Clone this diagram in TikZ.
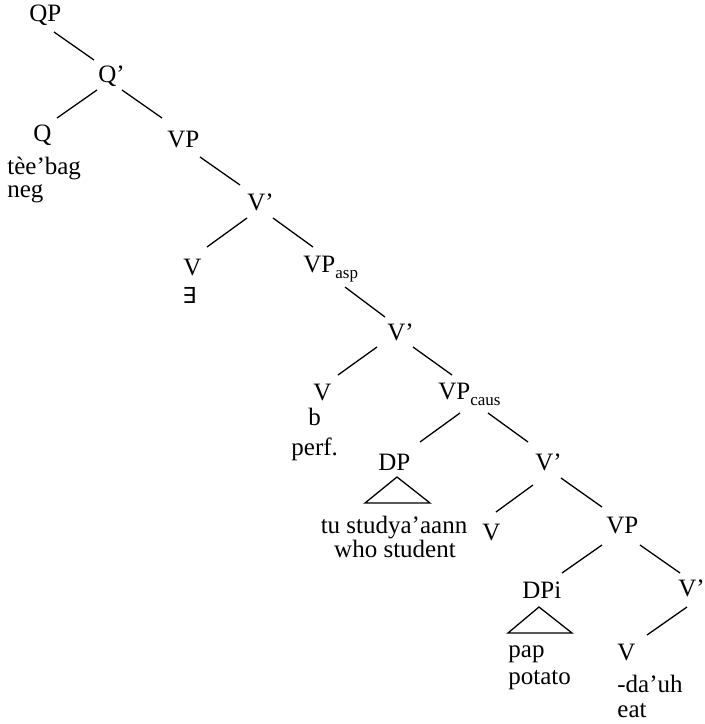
\documentclass[tikz,border=0pt]{standalone}
\usepackage{fontspec}
\setmainfont{Liberation Serif}
\newfontfamily\symfont{DejaVu Sans}
\usetikzlibrary{calc}
\newcommand\treeedge[4]{\draw[edge] ($(#1.base west)+(#2)$) -- ($(#3.base west)+(#4)$);}
\newcommand\treetri[4]{\draw[edge,line join=miter] ($(#1.base west)+(#2)$) -- ($(#1.base west)+(#3)$) -- ($(#1.base west)+(#4)$) -- cycle;}
\newcommand\subl[1]{\raisebox{-3pt}{\fontsize{8.5}{10}\selectfont #1}}
\begin{document}
\begin{tikzpicture}[x=0.5pt,y=-0.5pt,
  every node/.style={inner sep=0pt, anchor=base west, font=\fontsize{12.5}{14}\selectfont},
  ctr/.style={anchor=base},
  edge/.style={line width=0.65pt}]
\useasboundingbox (0,0) rectangle (705,724);
% nodes
\node (qp) at (29,21) {QP};
\node (qb) at (98,82) {Q’};
\node (q) at (33,141) {Q};
\node (q1) at (7,174) {tèe’bag};
\node (q2) at (7,197) {neg};
\node (vp1) at (167,147) {VP};
\node (vb1) at (247,210) {V’};
\node (v1) at (183,275) {V};
\node (ex) at (182,303) {\fontsize{11}{13}\symfont ∃};
\node (vpasp) at (303,272) {VP\subl{asp}};
\node (vb2) at (387,340) {V’};
\node (v2) at (313,400) {V};
\node (v2a) at (308,425) {b};
\node (v2b) at (291,455) {perf.};
\node (vpcaus) at (438,399) {VP\subl{caus}};
\node (dp1) at (378,470) {DP};
\node[ctr] (tu) at (394,533) {tu studya’aann};
\node[ctr] (who) at (395,557) {who student};
\node (vb3) at (535,470) {V’};
\node (v3) at (482,540) {V};
\node (vp2) at (606,533) {VP};
\node (dpi) at (522,598) {DPi};
\node (pap) at (508,657) {pap};
\node (potato) at (508,684) {potato};
\node (vb4) at (678,596) {V’};
\node (v4) at (617,660) {V};
\node (da) at (617,692) {-da’uh};
\node (eat) at (617,717) {eat};
% edges
\treeedge{qp}{25,11}{qb}{-4,-22}
\treeedge{qb}{-1,8}{q}{24,-23}
\treeedge{qb}{24,8}{vp1}{-5,-29}
\treeedge{vp1}{33,10}{vb1}{-7,-25}
\treeedge{vb1}{0,8}{v1}{24,-28}
\treeedge{vb1}{26,8}{vpasp}{10,-25}
\treeedge{vpasp}{42,15}{vb2}{-2,-23}
\treeedge{vb2}{-10,7}{v2}{25,-25}
\treeedge{vb2}{26,7}{vpcaus}{14,-24}
\treeedge{vpcaus}{22,14}{dp1}{42,-28}
\treeedge{vpcaus}{50,14}{vb3}{-7,-28}
\treeedge{vb3}{-2,15}{v3}{14,-28}
\treeedge{vb3}{26,8}{vp2}{-4,-26}
\treeedge{vp2}{-4,12}{dpi}{40,-25}
\treeedge{vp2}{34,12}{vb4}{2,-23}
\treeedge{vb4}{9,11}{v4}{30,-25}
% triangles
\treetri{dp1}{19,7}{-13,33}{52,33}
\treetri{dpi}{17,9}{-14,35}{50,35}
\end{tikzpicture}
\end{document}
